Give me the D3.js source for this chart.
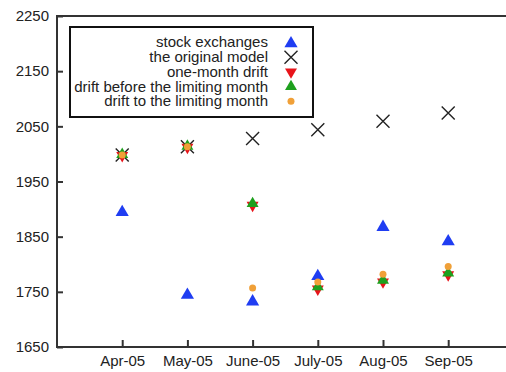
<!DOCTYPE html>
<html>
<head>
<meta charset="utf-8">
<script src="https://cdn.jsdelivr.net/npm/d3@7"></script>
<style>
  html, body { margin: 0; padding: 0; background: #fff; }
  svg { display: block; }
  text { font-family: "Liberation Sans", Arial, sans-serif; fill: #222; }
</style>
</head>
<body>
<svg id="chart" width="506" height="372"></svg>
<script>
// Monthly categories along the x axis
const months = ["Apr-05", "May-05", "June-05", "July-05", "Aug-05", "Sep-05"];

// Series values
const stockExchanges   = [1896, 1746, 1734, 1780, 1869, 1843];
const originalModel    = [1998, 2013, 2028, 2044, 2059, 2074];
const oneMonthDrift    = [1997, 2012, 1907, 1755, 1768, 1781];
const driftBeforeLimit = [1999, 2014, 1910, 1759, 1771, 1784];
const driftToLimit     = [1998, 2013, 1757, 1768, 1782, 1796];

// Y tick labels
const yTicks = [1650, 1750, 1850, 1950, 2050, 2150, 2250];

const legendLabels = [
  "stock exchanges",
  "the original model",
  "one-month drift",
  "drift before the limiting month",
  "drift to the limiting month"
];

const svg = d3.select("#chart");
const plotLeft = 57, plotTop = 16, plotBottom = 347;
const step = 65.2;
const plotRight = plotLeft + step * (months.length + 1);

const x = d3.scaleLinear().domain([0, months.length + 1]).range([plotLeft, plotRight]);
const y = d3.scaleLinear().domain([1650, 2250]).range([plotBottom, plotTop]);

const axisColor = "#333";

// Frame
svg.append("rect")
  .attr("x", plotLeft).attr("y", plotTop)
  .attr("width", plotRight - plotLeft).attr("height", plotBottom - plotTop)
  .attr("fill", "none").attr("stroke", axisColor).attr("stroke-width", 2);

// Y axis (ticks pointing inward)
const yAxis = d3.axisLeft(y).tickValues(yTicks).tickFormat(d3.format("d"))
  .tickSizeInner(-6).tickSizeOuter(0).tickPadding(8);
const gy = svg.append("g").attr("transform", `translate(${plotLeft},0)`).call(yAxis);
gy.select(".domain").remove();
gy.selectAll(".tick line").attr("stroke", axisColor).attr("stroke-width", 2);
gy.selectAll(".tick text").attr("font-size", 15).attr("fill", "#222")
  .attr("font-family", "Liberation Sans, Arial, sans-serif");

// X axis (ticks pointing inward)
const xAxis = d3.axisBottom(x).tickValues(d3.range(1, months.length + 1))
  .tickFormat(i => months[i - 1]).tickSizeInner(-7).tickSizeOuter(0).tickPadding(8);
const gx = svg.append("g").attr("transform", `translate(0,${plotBottom})`).call(xAxis);
gx.select(".domain").remove();
gx.selectAll(".tick line").attr("stroke", axisColor).attr("stroke-width", 2);
gx.selectAll(".tick text").attr("font-size", 15).attr("fill", "#222")
  .attr("font-family", "Liberation Sans, Arial, sans-serif");

// Marker shapes
const triUp = d3.symbol().type(d3.symbolTriangle).size(75);
const triDown = d3.symbol().type(d3.symbolTriangle).size(62);
const triUpSmall = d3.symbol().type(d3.symbolTriangle).size(62);

function drawMarker(g, kind, cx, cy) {
  if (kind === "stock") {
    g.append("path").attr("d", triUp()).attr("fill", "#1f3df2")
      .attr("transform", `translate(${cx},${cy + 1})`);
  } else if (kind === "model") {
    const s = 6.5;
    g.append("path")
      .attr("d", `M${cx - s},${cy - s}L${cx + s},${cy + s}M${cx - s},${cy + s}L${cx + s},${cy - s}`)
      .attr("stroke", "#222").attr("stroke-width", 1.4).attr("fill", "none");
  } else if (kind === "one") {
    g.append("path").attr("d", triDown()).attr("fill", "#e8141a")
      .attr("transform", `translate(${cx},${cy}) rotate(180)`);
  } else if (kind === "before") {
    g.append("path").attr("d", triUpSmall()).attr("fill", "#1ea01e")
      .attr("transform", `translate(${cx},${cy})`);
  } else if (kind === "to") {
    g.append("circle").attr("cx", cx).attr("cy", cy).attr("r", 3.5).attr("fill", "#f0a038");
  }
}

function drawSeries(values, kind, g) {
  values.forEach((v, i) => drawMarker(g, kind, x(i + 1), y(v)));
}

const marks = svg.append("g");
drawSeries(stockExchanges, "stock", marks);
drawSeries(originalModel, "model", marks);
drawSeries(oneMonthDrift, "one", marks);
drawSeries(driftBeforeLimit, "before", marks);
drawSeries(driftToLimit, "to", marks);

// Legend
const lg = svg.append("g");
lg.append("rect").attr("x", 70).attr("y", 27).attr("width", 243).attr("height", 90)
  .attr("fill", "#fff").attr("stroke", "#111").attr("stroke-width", 2);
const kinds = ["stock", "model", "one", "before", "to"];
legendLabels.forEach((t, i) => {
  const ly = 42.5 + i * 14.7;
  // slightly widened 14px text keeps rows tight without crowding
  lg.append("text").attr("transform", `translate(268,${ly}) scale(1.075,1)`)
    .attr("dy", "0.35em").attr("text-anchor", "end").attr("font-size", 14).text(t);
  drawMarker(lg, kinds[i], 291, ly);
});
</script>
</body>
</html>
